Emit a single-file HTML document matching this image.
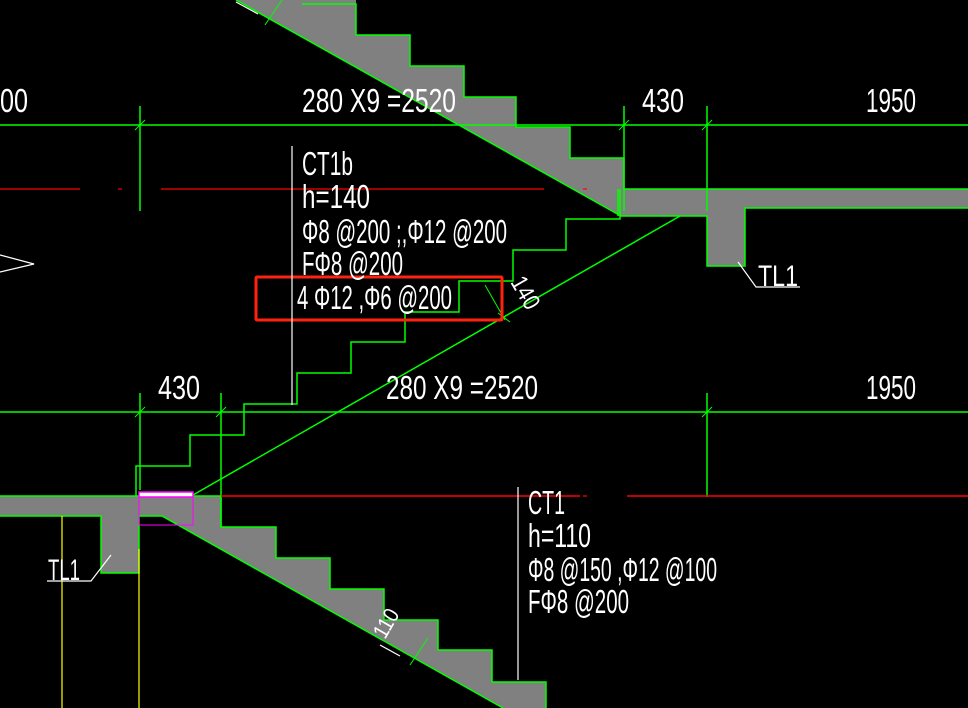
<!DOCTYPE html>
<html><head><meta charset="utf-8"><style>
html,body{margin:0;padding:0;background:#000;width:968px;height:708px;overflow:hidden}
svg{display:block}
text{font-family:"Liberation Sans",sans-serif;fill:#fff;font-size:33px}
</style></head><body>
<svg width="968" height="708" viewBox="0 0 968 708" xmlns="http://www.w3.org/2000/svg">
<!-- upper stair gray -->
<polygon points="236,0 356,0 356,35 410,35 410,66 464,66 464,97 516,97 516,127 570,127 570,158 624,158 624,189 968,189 968,208 745,208 745,266 707,266 707,216 621,216" fill="#808080"/>
<polyline points="302,4 356,4 356,35 410,35 410,66 464,66 464,97 516,97 516,127 570,127 570,158 624,158 624,189 968,189" fill="none" stroke="#0f0" stroke-width="1.5"/>
<polyline points="236,0 621,216 707,216 707,266 745,266 745,208 968,208" fill="none" stroke="#0f0" stroke-width="1.5"/>
<line x1="618" y1="189" x2="618" y2="216" stroke="#0f0" stroke-width="1.5"/>
<!-- lower stair gray -->
<polygon points="0,496 221,496 221,527 276,527 276,558 330,558 330,589 384,589 384,620 438,620 438,650 492,650 492,682 546,682 546,708 503,708 162,516 139,516 139,573 101,573 101,516 0,516" fill="#808080"/>
<polyline points="0,496 221,496 221,527 276,527 276,558 330,558 330,589 384,589 384,620 438,620 438,650 492,650 492,682 546,682 546,708" fill="none" stroke="#0f0" stroke-width="1.5"/>
<polyline points="0,516 101,516 101,573 139,573 139,516 162,516 503,708" fill="none" stroke="#0f0" stroke-width="1.5"/>
<!-- ghost stair outline -->
<polyline points="136,496 136,466 190,466 190,435 244,435 244,404 297,404 297,373 351,373 351,342 405,342 405,312 459,312 459,281 513,281 513,250 566,250 566,219 620,219 620,189" fill="none" stroke="#0f0" stroke-width="1.5"/>
<line x1="193" y1="495" x2="680" y2="216" stroke="#0f0" stroke-width="1.5"/>
<!-- dimension lines -->
<line x1="0" y1="125" x2="968" y2="125" stroke="#0f0" stroke-width="1.5"/>
<line x1="140" y1="106" x2="140" y2="211" stroke="#0f0" stroke-width="1.5"/>
<line x1="624" y1="106" x2="624" y2="211" stroke="#0f0" stroke-width="1.5"/>
<line x1="707" y1="106" x2="707" y2="211" stroke="#0f0" stroke-width="1.5"/>
<line x1="0" y1="412" x2="968" y2="412" stroke="#0f0" stroke-width="1.5"/>
<line x1="140" y1="393" x2="140" y2="490" stroke="#0f0" stroke-width="1.5"/>
<line x1="221" y1="393" x2="221" y2="527" stroke="#0f0" stroke-width="1.5"/>
<line x1="707" y1="393" x2="707" y2="497" stroke="#0f0" stroke-width="1.5"/>
<g stroke="#0f0" stroke-width="1">
<line x1="135" y1="130" x2="145" y2="120"/><line x1="619" y1="130" x2="629" y2="120"/><line x1="702" y1="130" x2="712" y2="120"/>
<line x1="135" y1="417" x2="145" y2="407"/><line x1="216" y1="417" x2="226" y2="407"/><line x1="702" y1="417" x2="712" y2="407"/>
<line x1="485" y1="285" x2="505" y2="320"/><line x1="498" y1="313" x2="510" y2="322"/>
<line x1="265" y1="25" x2="282" y2="0"/><line x1="410" y1="665" x2="428" y2="638"/>
</g>
<!-- red lines -->
<g stroke="#f00" stroke-width="1.2">
<line x1="0" y1="189" x2="80" y2="189"/><line x1="118" y1="189" x2="122" y2="189"/><line x1="161" y1="189" x2="544" y2="189"/><line x1="583" y1="189" x2="587" y2="189"/>
<line x1="221" y1="496" x2="580" y2="496" stroke-width="1.5"/><line x1="583" y1="496" x2="587" y2="496"/><line x1="627" y1="496" x2="968" y2="496" stroke-width="1.5"/>
</g>
<rect x="256" y="277" width="246" height="43" fill="none" stroke="#f21" stroke-width="3" rx="1"/>
<!-- magenta -->
<rect x="139" y="492" width="54" height="5" fill="#fff" stroke="#f0f" stroke-width="1.5"/>
<rect x="139" y="497" width="54" height="28" fill="none" stroke="#f0f" stroke-width="1"/>
<!-- yellow -->
<line x1="62" y1="516" x2="62" y2="708" stroke="#ff0" stroke-width="1.2"/>
<line x1="139" y1="549" x2="139" y2="708" stroke="#ff0" stroke-width="1.2"/>
<!-- white leaders -->
<g stroke="#fff" stroke-width="1.2" fill="none">
<line x1="292" y1="146" x2="292" y2="405"/>
<line x1="518" y1="487" x2="518" y2="680"/>
<polyline points="0,255 34,264 0,272"/>
<polyline points="738,262 756,287 800,287"/>
<polyline points="47,581 91,581 111,555"/>
<line x1="236" y1="2" x2="258" y2="14"/>
<line x1="380" y1="645" x2="400" y2="656"/>
</g>
<!-- texts -->
<text x="0" y="112" textLength="28" lengthAdjust="spacingAndGlyphs">00</text>
<text x="302" y="112" textLength="154" lengthAdjust="spacingAndGlyphs">280 X9 =2520</text>
<text x="642" y="112" textLength="42" lengthAdjust="spacingAndGlyphs">430</text>
<text x="866" y="112" textLength="50" lengthAdjust="spacingAndGlyphs">1950</text>
<text x="158" y="399" textLength="42" lengthAdjust="spacingAndGlyphs">430</text>
<text x="386" y="399" textLength="152" lengthAdjust="spacingAndGlyphs">280 X9 =2520</text>
<text x="866" y="399" textLength="50" lengthAdjust="spacingAndGlyphs">1950</text>
<text x="302" y="175" textLength="51" lengthAdjust="spacingAndGlyphs">CT1b</text>
<text x="302" y="208" textLength="68" lengthAdjust="spacingAndGlyphs">h=140</text>
<text x="302" y="243" textLength="205" lengthAdjust="spacingAndGlyphs">Φ8 @200 ;,Φ12 @200</text>
<text x="302" y="275" textLength="101" lengthAdjust="spacingAndGlyphs">FΦ8 @200</text>
<text x="297" y="309" textLength="155" lengthAdjust="spacingAndGlyphs">4 Φ12 ,Φ6 @200</text>
<text x="528" y="514" textLength="37" lengthAdjust="spacingAndGlyphs">CT1</text>
<text x="528" y="547" textLength="63" lengthAdjust="spacingAndGlyphs">h=110</text>
<text x="528" y="581" textLength="189" lengthAdjust="spacingAndGlyphs">Φ8 @150 ,Φ12 @100</text>
<text x="528" y="613" textLength="101" lengthAdjust="spacingAndGlyphs">FΦ8 @200</text>
<text x="758" y="286" textLength="40" lengthAdjust="spacingAndGlyphs" style="font-size:30px">TL1</text>
<text x="48" y="580" textLength="32" lengthAdjust="spacingAndGlyphs" style="font-size:30px">TL1</text>
<text x="0" y="0" transform="translate(510,282) rotate(60)" textLength="34" lengthAdjust="spacingAndGlyphs" style="font-size:24px">140</text>
<text x="0" y="0" transform="translate(385,640) rotate(-60)" textLength="30" lengthAdjust="spacingAndGlyphs" style="font-size:22px">110</text>
</svg>
</body></html>
